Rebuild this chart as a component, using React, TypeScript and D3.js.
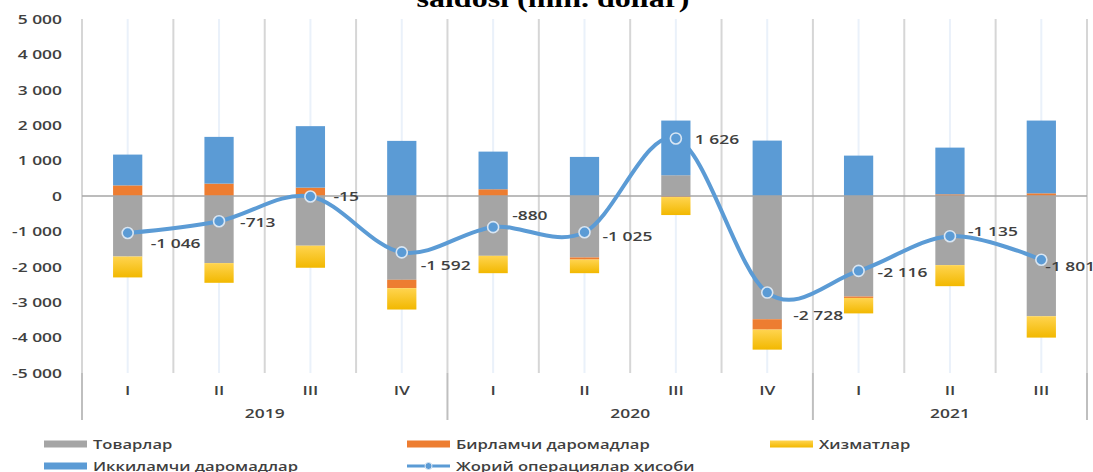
import React from 'react';
import * as d3 from 'd3';

const quarters = ['I', 'II', 'III', 'IV', 'I', 'II', 'III', 'IV', 'I', 'II', 'III'];
const years = ['2019', '2020', '2021'];
const quartersPerYear = [4, 4, 3];

const goods = [-1710, -1896, -1404, -2367, -1690, -1736, 586, -3481, -2840, -1953, -3397];
const primaryIncome = [300, 350, 237, -237, 190, -60, -30, -293, -40, 48, 76];
const services = [-590, -556, -623, -603, -490, -384, -508, -566, -436, -594, -603];
const secondaryIncome = [870, 1320, 1736, 1557, 1064, 1104, 1545, 1565, 1141, 1319, 2055];
const currentAccount = [-1046, -713, -15, -1592, -880, -1025, 1626, -2728, -2116, -1135, -1801];

const yTicks = [-5000, -4000, -3000, -2000, -1000, 0, 1000, 2000, 3000, 4000, 5000];

const seriesNames = ['Товарлар', 'Бирламчи даромадлар', 'Хизматлар', 'Иккиламчи даромадлар'];
const lineName = 'Жорий операциялар ҳисоби';
const titleText = 'saldosi (mln. dollar)';

// label nudges (dx, dy) relative to each point, as placed in the reference
const labelNudge: [number, number][] = [
  [23, 10], [21, 1], [23, 0], [19, 13], [19, -12], [18, 4], [19, 1], [26, 23], [19, 1], [18, -5], [4, 6],
];

const W = 1093;
const H = 472;
const plot = { left: 82, right: 1087, top: 19, bottom: 373 };
const colors = ['#A5A5A5', '#ED7D31', 'url(#gold)', '#5B9BD5'];
const lineColor = '#5B9BD5';
const textColor = '#404040';
const SX = 1.45;

const fmt = d3.formatLocale({ decimal: '.', thousands: ' ', grouping: [3], currency: ['', ''], minus: '-' }).format(',d');

function T(props: { x: number; y: number; anchor?: string; children: React.ReactNode; size?: number; weight?: number; fill?: string; sx?: number }) {
  const { x, y, anchor = 'start', children, size = 12, weight = 600, fill = textColor, sx = SX } = props;
  return (
    <text
      transform={`translate(${x},${y}) scale(${sx},1)`}
      textAnchor={anchor as any}
      dominantBaseline="central"
      fontSize={size}
      fontWeight={weight}
      fontFamily="'Open Sans', sans-serif"
      fill={fill}
    >
      {children}
    </text>
  );
}

export default function App() {
  const idx = quarters.map((_, i) => i);
  const x = d3.scaleBand<number>().domain(idx).range([plot.left, plot.right]).paddingInner(0.68).paddingOuter(0.34);
  const step = x.step();
  const xc = (i: number) => (x(i) as number) + x.bandwidth() / 2;
  const y = d3.scaleLinear().domain([-5000, 5000]).range([plot.bottom, plot.top]);

  const table = idx.map((i) => ({ g: goods[i], p: primaryIncome[i], s: services[i], t: secondaryIncome[i] }));
  const stack = d3.stack<any>().keys(['g', 'p', 's', 't']).order(d3.stackOrderNone).offset(d3.stackOffsetDiverging);
  const layers = stack(table);

  const line = d3
    .line<number>()
    .x((_, i) => xc(i))
    .y((v) => y(v))
    .curve(d3.curveCatmullRom.alpha(0));

  // year group boundaries
  const yearBounds: number[] = [plot.left];
  let acc = 0;
  quartersPerYear.forEach((n) => {
    acc += n;
    yearBounds.push(plot.left + acc * step);
  });

  const legendItems = [
    { name: seriesNames[0], color: colors[0], x: 44, y: 444, kind: 'rect' },
    { name: seriesNames[1], color: colors[1], x: 407, y: 444, kind: 'rect' },
    { name: seriesNames[2], color: colors[2], x: 770, y: 444, kind: 'rect' },
    { name: seriesNames[3], color: colors[3], x: 44, y: 466, kind: 'rect' },
    { name: lineName, color: lineColor, x: 407, y: 466, kind: 'line' },
  ];

  return (
    <div style={{ position: 'absolute', left: 0, top: 0 }}>
      <svg width={W} height={H} style={{ display: 'block', background: '#fff' }}>
        <defs>
          <linearGradient id="gold" x1="0" y1="0" x2="0" y2="1">
            <stop offset="0" stopColor="#FFD44F" />
            <stop offset="1" stopColor="#F2B800" />
          </linearGradient>
        </defs>

        <text
          x={553}
          y={7}
          textAnchor="middle"
          fontFamily="'Liberation Serif', 'Times New Roman', serif"
          fontWeight={700}
          fontSize={26}
          textLength={273}
          lengthAdjust="spacingAndGlyphs"
          fill="#000"
        >
          {titleText}
        </text>

        {/* vertical gridlines at category centers */}
        {idx.map((i) => (
          <line key={'c' + i} x1={xc(i)} x2={xc(i)} y1={plot.top} y2={plot.bottom} stroke="#EAF1FA" strokeWidth={2} />
        ))}
        {/* vertical gridlines at category boundaries */}
        {d3.range(idx.length + 1).map((k) => (
          <line
            key={'b' + k}
            x1={plot.left + k * step}
            x2={plot.left + k * step}
            y1={plot.top}
            y2={plot.bottom}
            stroke="#D6D6D6"
            strokeWidth={2}
          />
        ))}
        {/* year separators */}
        {yearBounds.map((bx, k) => (
          <line key={'y' + k} x1={bx} x2={bx} y1={plot.bottom} y2={420} stroke="#BFBFBF" strokeWidth={2} />
        ))}

        {/* bars */}
        {layers.map((layer, li) => (
          <g key={'l' + li} fill={colors[li]}>
            {layer.map((d, i) => {
              const y0 = y(d[0]);
              const y1 = y(d[1]);
              const top = Math.min(y0, y1);
              const h = Math.abs(y1 - y0);
              if (h < 0.01) return null;
              return <rect key={i} x={x(i)} y={top} width={x.bandwidth()} height={h} />;
            })}
          </g>
        ))}

        {/* zero axis line */}
        <line x1={plot.left} x2={plot.right} y1={y(0)} y2={y(0)} stroke="#A6A6A6" strokeWidth={1.5} />

        {/* y tick labels */}
        {yTicks.map((t) => (
          <T key={'t' + t} x={62} y={y(t)} anchor="end">
            {fmt(t)}
          </T>
        ))}

        {/* current account line */}
        <path d={line(currentAccount) || ''} fill="none" stroke={lineColor} strokeWidth={4} strokeLinecap="round" />
        {currentAccount.map((v, i) => (
          <circle key={'m' + i} cx={xc(i)} cy={y(v)} r={5.5} fill={lineColor} stroke="#D9E6F3" strokeWidth={1.6} />
        ))}
        {currentAccount.map((v, i) => (
          <T key={'dl' + i} x={xc(i) + labelNudge[i][0]} y={y(v) + labelNudge[i][1]}>
            {fmt(v)}
          </T>
        ))}

        {/* category labels */}
        {quarters.map((q, i) => (
          <T key={'q' + i} x={xc(i)} y={390} anchor="middle">
            {q}
          </T>
        ))}
        {years.map((yr, k) => (
          <T key={'yr' + k} x={(yearBounds[k] + yearBounds[k + 1]) / 2} y={413} anchor="middle">
            {yr}
          </T>
        ))}

        {/* legend */}
        {legendItems.map((it, k) => (
          <g key={'lg' + k}>
            {it.kind === 'rect' ? (
              <rect x={it.x} y={it.y - 3.5} width={43} height={7} fill={it.color} />
            ) : (
              <g>
                <line x1={it.x} x2={it.x + 43} y1={it.y} y2={it.y} stroke={it.color} strokeWidth={3} />
                <circle cx={it.x + 21.5} cy={it.y} r={3.5} fill={it.color} stroke="#D9E6F3" strokeWidth={1} />
              </g>
            )}
            <T x={it.x + 49} y={it.y} sx={1.38}>
              {it.name}
            </T>
          </g>
        ))}
      </svg>
    </div>
  );
}
